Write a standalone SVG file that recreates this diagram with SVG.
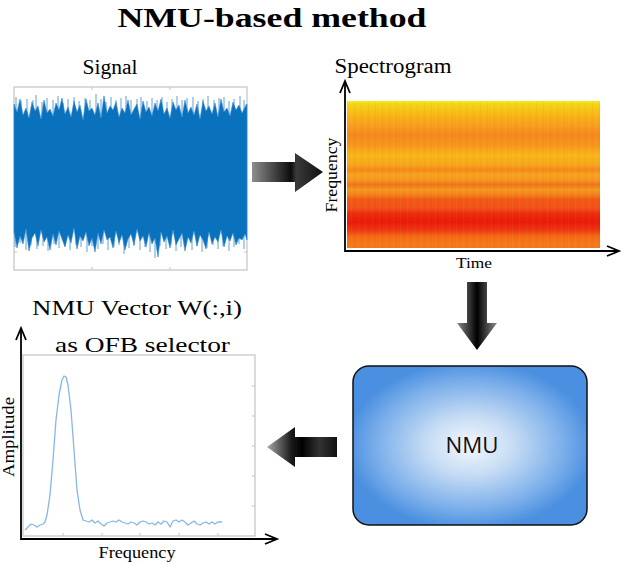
<svg xmlns="http://www.w3.org/2000/svg" width="622" height="564" viewBox="0 0 622 564">
<style>
.serif{font-family:"Liberation Serif","Times New Roman",serif;fill:#000}
.box{fill:#fff;stroke:#c4c4c4;stroke-width:1.2}
.tick{stroke:#c4c4c4;stroke-width:1}
.axis{stroke:#000;stroke-width:1.8;fill:none}
.spk{stroke:#4f97d6;stroke-width:0.9;fill:none}
</style>
<defs>
<linearGradient id="spec" x1="0" y1="0" x2="0" y2="1">
<stop offset="0" stop-color="#ecf01c"/>
<stop offset="0.02" stop-color="#f5d515"/>
<stop offset="0.095" stop-color="#f8b615"/>
<stop offset="0.16" stop-color="#f7a01e"/>
<stop offset="0.23" stop-color="#f5881c"/>
<stop offset="0.30" stop-color="#f6961c"/>
<stop offset="0.37" stop-color="#f8b618"/>
<stop offset="0.435" stop-color="#f6a61a"/>
<stop offset="0.47" stop-color="#f4881c"/>
<stop offset="0.50" stop-color="#f6a41c"/>
<stop offset="0.54" stop-color="#f69420"/>
<stop offset="0.57" stop-color="#f07418"/>
<stop offset="0.605" stop-color="#f49a1e"/>
<stop offset="0.64" stop-color="#f27e1a"/>
<stop offset="0.67" stop-color="#f05a14"/>
<stop offset="0.73" stop-color="#f2501a"/>
<stop offset="0.765" stop-color="#ec2c0c"/>
<stop offset="0.825" stop-color="#e81a0a"/>
<stop offset="0.88" stop-color="#ee3812"/>
<stop offset="0.92" stop-color="#f26a16"/>
<stop offset="0.97" stop-color="#f47a18"/>
<stop offset="1" stop-color="#f4781c"/>
</linearGradient>
<pattern id="streak" width="7" height="147" patternUnits="userSpaceOnUse">
<rect x="1" y="0" width="1" height="147" fill="#fff" opacity="0.04"/>
<rect x="4" y="0" width="1" height="147" fill="#a00" opacity="0.03"/>
</pattern>
<radialGradient id="nmu" cx="0.5" cy="0.5" r="0.62">
<stop offset="0" stop-color="#f4f8fd"/>
<stop offset="0.3" stop-color="#c6dcf4"/>
<stop offset="0.65" stop-color="#7aaeea"/>
<stop offset="0.85" stop-color="#4a8fe0"/>
<stop offset="1" stop-color="#4a8fe0"/>
</radialGradient>
<linearGradient id="rbody" x1="252" y1="0" x2="323" y2="0" gradientUnits="userSpaceOnUse">
<stop offset="0" stop-color="#8e8e8e"/>
<stop offset="0.55" stop-color="#0c0c0c"/>
<stop offset="0.62" stop-color="#3a3a3a"/>
<stop offset="1" stop-color="#101010"/>
</linearGradient>
<linearGradient id="dgrad" x1="457" y1="0" x2="497" y2="0" gradientUnits="userSpaceOnUse">
<stop offset="0" stop-color="#8a8a8a"/>
<stop offset="0.5" stop-color="#000"/>
<stop offset="1" stop-color="#8a8a8a"/>
</linearGradient>
<linearGradient id="lgrad" x1="267" y1="0" x2="337" y2="0" gradientUnits="userSpaceOnUse">
<stop offset="0" stop-color="#a8a8a8"/>
<stop offset="0.35" stop-color="#1a1a1a"/>
<stop offset="0.5" stop-color="#000"/>
<stop offset="0.75" stop-color="#333"/>
<stop offset="1" stop-color="#111"/>
</linearGradient>
</defs>

<text class="serif" x="272" y="27" font-size="28" font-weight="bold" text-anchor="middle" textLength="309" lengthAdjust="spacingAndGlyphs">NMU-based method</text>

<g id="signal">
<text class="serif" x="110" y="74" font-size="20" text-anchor="middle" textLength="55" lengthAdjust="spacingAndGlyphs">Signal</text>
<rect class="box" x="14" y="87" width="233" height="183"/>
<path class="tick" d="M92 87v3M170 87v3M92 270v-3M170 270v-3M14 105h3M14 252h3M247 105h-3M247 252h-3"/>
<path class="spk" d="M16 115V97M21 115V101M27 115V99M33 115V100M36 115V95M42 115V102M47 115V98M53 115V100M58 115V96M63 115V103M68 115V99M74 115V97M79 115V101M85 115V98M90 115V100M96 115V94M101 115V99M106 115V102M111 115V97M116 115V100M121 115V98M126 115V96M131 115V100M137 115V99M141 115V97M147 115V101M152 115V98M157 115V100M162 115V97M167 115V102M172 115V99M177 115V96M182 115V100M187 115V98M193 115V97M198 115V101M203 115V99M208 115V96M214 115V100M219 115V98M224 115V97M229 115V101M234 115V99M240 115V96M244 115V100"/>
<path class="spk" d="M15 230V247M20 230V243M26 230V250M31 230V245M37 230V249M43 230V246M48 230V251M54 230V244M59 230V248M65 230V246M70 230V250M76 230V245M81 230V247M87 230V252M92 230V246M98 230V249M103 230V244M108 230V250M114 230V247M119 230V245M124 230V254M129 230V248M134 230V246M140 230V250M145 230V247M150 230V252M155 230V258M160 230V246M166 230V249M171 230V245M176 230V251M181 230V247M186 230V244M192 230V250M197 230V246M202 230V252M207 230V248M213 230V245M218 230V249M223 230V246M229 230V251M234 230V247M239 230V244M244 230V249"/>
<polygon fill="#0a72bd" stroke="#3a8ad0" stroke-width="0.6" stroke-linejoin="bevel" points="14,104 17,112 20,99 23,115 26,108 29,118 32,102 35,111 38,106 41,119 44,100 47,113 50,109 53,116 56,103 59,110 62,98 65,114 68,107 71,117 74,101 77,112 80,105 83,120 86,99 89,111 92,108 95,115 98,103 101,118 104,96 107,113 110,106 113,110 116,102 119,117 122,108 125,113 128,100 131,115 134,109 137,104 140,119 143,101 146,112 149,107 152,116 155,103 158,111 161,99 164,114 167,108 170,118 173,102 176,110 179,105 182,117 185,100 188,113 191,107 194,115 197,104 200,119 203,101 206,111 209,106 212,114 215,103 218,117 221,99 224,112 227,108 230,116 233,102 236,110 239,105 242,113 245,107 247,104 247,240 245,234 242,240 239,238 236,245 233,233 230,241 227,236 224,247 221,230 218,242 215,237 212,244 209,232 206,249 203,240 200,235 197,246 194,231 191,243 188,237 185,251 182,233 179,239 176,245 173,230 170,248 167,236 164,242 161,232 158,257 155,238 152,244 149,233 146,247 143,236 140,241 137,229 134,245 131,234 128,239 125,250 122,235 119,243 116,231 113,248 110,237 107,240 104,230 101,244 98,233 95,252 92,238 89,246 86,232 83,241 80,236 77,249 74,228 71,243 68,235 65,247 62,239 59,231 56,245 53,234 50,250 47,237 44,242 41,230 38,246 35,233 32,238 29,251 26,229 23,244 20,236 17,248 14,232"/>
</g>

<g id="spectrogram">
<text class="serif" x="393" y="73" font-size="20" text-anchor="middle" textLength="117" lengthAdjust="spacingAndGlyphs">Spectrogram</text>
<rect x="347" y="101" width="253" height="147" fill="url(#spec)"/>
<rect x="347" y="101" width="253" height="147" fill="url(#streak)"/>
<path class="axis" d="M345 81V251H619"/>
<path class="axis" d="M340 93L345 81L350 93M607 246L619 251L607 256"/>
<text class="serif" x="474" y="268" font-size="15" text-anchor="middle" textLength="36" lengthAdjust="spacingAndGlyphs">Time</text>
<text class="serif" transform="translate(337 175) rotate(-90)" x="0" y="0" font-size="16" text-anchor="middle" textLength="75" lengthAdjust="spacingAndGlyphs">Frequency</text>
</g>

<g id="nmu-box">
<rect x="353" y="366" width="234" height="159" rx="16" ry="16" fill="url(#nmu)" stroke="#111" stroke-width="1.5"/>
<text x="472" y="453" font-family="'Open Sans','DejaVu Sans',sans-serif" font-size="21" text-anchor="middle" fill="#111" textLength="53" lengthAdjust="spacingAndGlyphs">NMU</text>
</g>

<g id="ofb-plot">
<text class="serif" x="137" y="315" font-size="22" text-anchor="middle" textLength="210" lengthAdjust="spacingAndGlyphs">NMU Vector W(:,i)</text>
<text class="serif" x="142.5" y="352" font-size="22" text-anchor="middle" textLength="175" lengthAdjust="spacingAndGlyphs">as OFB selector</text>
<rect class="box" x="23" y="355" width="232" height="181"/>
<path class="tick" d="M63 536v-3M102 536v-3M140 536v-3M179 536v-3M218 536v-3M255 386h-3M255 416h-3M255 446h-3M255 476h-3M255 506h-3"/>
<path d="M25,530 L28,527 31,524 34,525 37,527 40,525 43,524 45,522 47,515 50,495 53,460 56,420 59,395 62,380 64,376 66,377 68,385 71,410 74,450 77,490 80,510 83,520 86,521 89,522 92,520 95,523 98,521 101,524 104,526 107,523 110,522 113,521 116,522 119,520 122,522 125,523 128,524 131,522 134,523 137,525 140,522 143,521 146,522 149,524 152,523 155,525 158,522 161,524 164,521 167,522 170,527 173,521 176,520 179,522 182,520 185,522 188,525 191,523 194,521 197,524 200,525 203,523 206,522 209,524 212,522 215,524 218,522 222,522" fill="none" stroke="#86b6ea" stroke-width="1.3" stroke-linejoin="round"/>
<path class="axis" d="M21 328V539H277"/>
<path class="axis" d="M16 340L21 328L26 340M265 534L277 539L265 544"/>
<text class="serif" transform="translate(14 437) rotate(-90)" x="0" y="0" font-size="16" text-anchor="middle" textLength="80" lengthAdjust="spacingAndGlyphs">Amplitude</text>
<text class="serif" x="137" y="558" font-size="16" text-anchor="middle" textLength="77" lengthAdjust="spacingAndGlyphs">Frequency</text>
</g>

<g id="connectors">
<path d="M252 162H295V153L323 172L295 192V182H252Z" fill="url(#rbody)"/>
<path d="M467 282H487V323H497L477 350L457 323H467Z" fill="url(#dgrad)"/>
<path d="M337 437H295V427L267 447L295 467V457H337Z" fill="url(#lgrad)"/>
</g>
</svg>
